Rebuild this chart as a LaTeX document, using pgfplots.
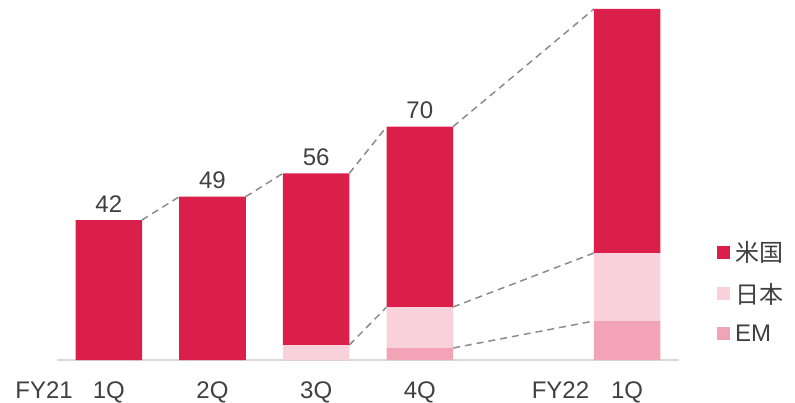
\documentclass[border=0pt]{standalone}
\usepackage{fontspec}
\setmainfont{Liberation Sans}
\newfontfamily\jp{Noto Sans CJK JP}
\usepackage{pgfplots}
\pgfplotsset{compat=1.18}

\definecolor{usred}{HTML}{DA1F4A}
\definecolor{jppink}{HTML}{F8D1DA}
\definecolor{empink}{HTML}{F2A3B5}
\definecolor{txt}{HTML}{404040}
\definecolor{dash}{HTML}{8C8C8C}
\definecolor{base}{HTML}{D9D9D9}

\pgfplotsset{
    seg/.style={ybar, bar width=66.5pt, bar shift=0pt, draw=none, fill=#1},
    conn/.style={sharp plot, forget plot, draw=dash, line width=1.5pt,
        dash pattern=on 7pt off 5pt, stack plots=false},
}

\begin{document}
\begin{tikzpicture}
\begin{axis}[
    name=ax,
    scale only axis,
    width=622pt, height=360pt,
    xmin=-0.5, xmax=5.5,
    ymin=0, ymax=108,
    stack plots=y,
    hide y axis,
    axis x line*=bottom,
    x axis line style={draw=base, line width=2pt},
    xtick={0,1,2,3,5},
    xticklabels={\llap{FY21\hspace{20pt}}1Q, 2Q, 3Q, 4Q, \llap{FY22\hspace{22pt}}1Q},
    major tick length=0pt,
    xticklabel style={anchor=base, yshift=-38pt, font=\fontsize{24}{28}\selectfont, text=txt},
    legend style={at={(1.061,0.333)}, anchor=north west, draw=none, fill=none,
        font=\fontsize{24}{28}\selectfont, text=txt,
        row sep=18pt, inner sep=0pt,
        nodes={inner sep=1pt}},
    legend cell align=left,
    reverse legend,
    legend image code/.code={\fill[#1] (0pt,-6.5pt) rectangle (13pt,6.5pt); \path (17pt,0pt);},
]
\addplot[seg=empink] coordinates {(0,0) (1,0) (2,0) (3,3.6) (5,11.7)};
\addlegendentry{EM}
\addplot[seg=jppink] coordinates {(0,0) (1,0) (2,4.5) (3,12.3) (5,20.4)};
\addlegendentry{\jp 日本}
\addplot[seg=usred] coordinates {(0,42) (1,49) (2,51.5) (3,54.1) (5,73.2)};
\addlegendentry{\jp 米国}

% totals above the bars
\addplot[sharp plot, forget plot, draw=none, stack plots=false,
    point meta=explicit symbolic,
    nodes near coords,
    nodes near coords style={anchor=base, yshift=8pt, font=\fontsize{24}{28}\selectfont, text=txt}]
    coordinates {(0,42)[42] (1,49)[49] (2,56)[56] (3,70)[70]};

% dashed connectors between bar tops and segment borders
\addplot[conn] coordinates {(0.32,42) (0.68,49)};
\addplot[conn] coordinates {(1.32,49) (1.68,56)};
\addplot[conn] coordinates {(2.32,56) (2.68,70)};
\addplot[conn] coordinates {(3.32,70) (4.68,105.3)};
\addplot[conn] coordinates {(2.32,4.5) (2.68,15.9)};
\addplot[conn] coordinates {(3.32,15.9) (4.68,32.1)};
\addplot[conn] coordinates {(3.32,3.6) (4.68,11.7)};
\end{axis}
\pgfresetboundingbox
\path[use as bounding box] ([shift={(-57pt,-42pt)}]ax.south west) rectangle ++(795pt,402pt);
\end{tikzpicture}
\end{document}
